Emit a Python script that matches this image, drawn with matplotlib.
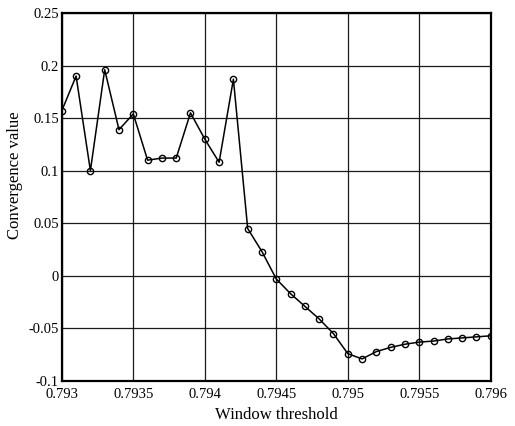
import numpy as np
import matplotlib.pyplot as plt

plt.rcParams['font.family'] = ['Liberation Serif', 'DejaVu Serif']

# window threshold values (step 0.0001) and convergence values
threshold = [0.7930, 0.7931, 0.7932, 0.7933, 0.7934, 0.7935, 0.7936, 0.7937,
             0.7938, 0.7939, 0.7940, 0.7941, 0.7942, 0.7943, 0.7944, 0.7945,
             0.7946, 0.7947, 0.7948, 0.7949, 0.7950, 0.7951, 0.7952, 0.7953,
             0.7954, 0.7955, 0.7956, 0.7957, 0.7958, 0.7959, 0.7960]
convergence = [0.157, 0.190, 0.100, 0.196, 0.139, 0.154, 0.110, 0.112,
               0.112, 0.155, 0.130, 0.108, 0.187, 0.045, 0.023, -0.003,
               -0.017, -0.029, -0.041, -0.055, -0.074, -0.079, -0.072, -0.068,
               -0.065, -0.063, -0.062, -0.060, -0.059, -0.058, -0.057]
xticks = [0.793, 0.7935, 0.794, 0.7945, 0.795, 0.7955, 0.796]
xticklabels = ['0.793', '0.7935', '0.794', '0.7945', '0.795', '0.7955', '0.796']
yticks = [-0.1, -0.05, 0, 0.05, 0.1, 0.15, 0.2, 0.25]
yticklabels = ['-0.1', '-0.05', '0', '0.05', '0.1', '0.15', '0.2', '0.25']

fig = plt.figure(figsize=(5.15, 4.26), dpi=100)
ax = fig.add_axes([0.120, 0.1056, 0.833, 0.864])

ax.plot(threshold, convergence, color='black', linewidth=1.1,
        marker='o', markersize=4.5, markerfacecolor='none',
        markeredgecolor='black', markeredgewidth=1.0)

ax.set_xlim(0.793, 0.796)
ax.set_ylim(-0.1, 0.25)
ax.set_xticks(xticks)
ax.set_xticklabels(xticklabels)
ax.set_yticks(yticks)
ax.set_yticklabels(yticklabels)
ax.tick_params(direction='in', length=0, labelsize=10.5)
ax.tick_params(axis='x', pad=5)
ax.tick_params(axis='y', pad=2)
ax.grid(True, color='#1a1a1a', linewidth=0.9)
for s in ax.spines.values():
    s.set_linewidth(1.6)

ax.set_xlabel('Window threshold', fontsize=12, labelpad=4)
ax.set_ylabel('Convergence value', fontsize=12)
ax.yaxis.set_label_coords(-0.09, 0.56)

fig.savefig('out.png', dpi=100)
